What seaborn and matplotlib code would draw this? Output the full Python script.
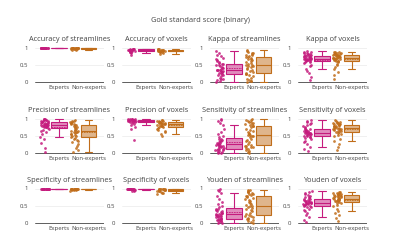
import numpy as np
import pandas as pd
import matplotlib
matplotlib.use("Agg")
import matplotlib.pyplot as plt
from matplotlib.colors import to_rgba
import seaborn as sns

# Values (approximate samples per group)
groups = ["Experts", "Non-experts"]
panel_titles = [
    "Accuracy of streamlines", "Accuracy of voxels", "Kappa of streamlines", "Kappa of voxels",
    "Precision of streamlines", "Precision of voxels", "Sensitivity of streamlines", "Sensitivity of voxels",
    "Specificity of streamlines", "Specificity of voxels", "Youden of streamlines", "Youden of voxels",
]

acc_str_exp = [0.975, 0.98, 0.982, 0.985, 0.986, 0.987, 0.988, 0.989, 0.99, 0.99,
               0.991, 0.992, 0.993, 0.993, 0.994, 0.995, 0.996, 0.997, 0.998, 0.999]
acc_str_non = [0.92, 0.94, 0.95, 0.96, 0.965, 0.97, 0.975, 0.978, 0.98, 0.982,
               0.984, 0.985, 0.987, 0.988, 0.99, 0.991, 0.993, 0.995, 0.997, 0.999]
acc_vox_exp = [0.78, 0.84, 0.86, 0.87, 0.88, 0.89, 0.9, 0.91, 0.91, 0.92,
               0.92, 0.93, 0.93, 0.94, 0.94, 0.95, 0.95, 0.96, 0.96, 0.97]
acc_vox_non = [0.82, 0.84, 0.86, 0.87, 0.88, 0.89, 0.89, 0.9, 0.9, 0.91,
               0.91, 0.92, 0.92, 0.93, 0.93, 0.94, 0.94, 0.95, 0.96, 0.97]

kap_str_exp = [0.0, 0.02, 0.05, 0.08, 0.1, 0.13, 0.16, 0.19, 0.21, 0.23,
               0.25, 0.27, 0.28, 0.3, 0.31, 0.32, 0.33, 0.34, 0.34, 0.35,
               0.36, 0.38, 0.4, 0.42, 0.44, 0.46, 0.48, 0.5, 0.51, 0.52,
               0.54, 0.57, 0.6, 0.63, 0.67, 0.7, 0.74, 0.78, 0.84, 0.9]
kap_str_non = [0.0, 0.02, 0.04, 0.07, 0.1, 0.13, 0.16, 0.19, 0.22, 0.24,
               0.26, 0.29, 0.32, 0.35, 0.38, 0.41, 0.43, 0.45, 0.47, 0.48,
               0.49, 0.51, 0.54, 0.57, 0.6, 0.63, 0.66, 0.68, 0.7, 0.72,
               0.73, 0.75, 0.77, 0.79, 0.81, 0.83, 0.85, 0.87, 0.89, 0.92]
kap_vox_exp = [0.05, 0.15, 0.25, 0.33, 0.38, 0.45, 0.5, 0.54, 0.57, 0.59,
               0.6, 0.62, 0.63, 0.64, 0.65, 0.66, 0.66, 0.67, 0.67, 0.68,
               0.68, 0.69, 0.7, 0.71, 0.72, 0.72, 0.73, 0.74, 0.75, 0.76,
               0.77, 0.78, 0.79, 0.8, 0.82, 0.83, 0.84, 0.86, 0.87, 0.89]
kap_vox_non = [0.1, 0.2, 0.3, 0.38, 0.43, 0.48, 0.53, 0.57, 0.6, 0.61,
               0.62, 0.64, 0.65, 0.66, 0.67, 0.68, 0.68, 0.69, 0.69, 0.7,
               0.7, 0.71, 0.72, 0.73, 0.74, 0.75, 0.76, 0.77, 0.77, 0.78,
               0.79, 0.8, 0.81, 0.82, 0.83, 0.84, 0.85, 0.86, 0.87, 0.88]

pre_str_exp = [0.02, 0.15, 0.28, 0.4, 0.47, 0.55, 0.6, 0.64, 0.68, 0.7,
               0.72, 0.74, 0.75, 0.76, 0.77, 0.78, 0.79, 0.79, 0.8, 0.8,
               0.81, 0.82, 0.83, 0.84, 0.85, 0.86, 0.87, 0.88, 0.89, 0.9,
               0.91, 0.92, 0.93, 0.94, 0.95, 0.96, 0.97, 0.98, 0.99, 1.0]
pre_str_non = [0.02, 0.08, 0.14, 0.2, 0.26, 0.31, 0.35, 0.39, 0.42, 0.44,
               0.46, 0.48, 0.5, 0.52, 0.54, 0.56, 0.58, 0.6, 0.61, 0.62,
               0.63, 0.64, 0.66, 0.68, 0.7, 0.72, 0.74, 0.76, 0.78, 0.8,
               0.81, 0.83, 0.85, 0.87, 0.88, 0.9, 0.91, 0.93, 0.94, 0.96]
pre_vox_exp = [0.37, 0.7, 0.76, 0.8, 0.84, 0.87, 0.89, 0.9, 0.91, 0.92, 0.93, 0.93, 0.94,
               0.94, 0.95, 0.95, 0.96, 0.96, 0.97, 0.97, 0.98, 0.98, 0.99, 0.99, 1.0]
pre_vox_non = [0.5, 0.55, 0.6, 0.64, 0.68, 0.71, 0.73, 0.75, 0.76, 0.77,
               0.78, 0.79, 0.8, 0.82, 0.83, 0.84, 0.85, 0.86, 0.87, 0.87,
               0.88, 0.89, 0.89, 0.9, 0.91, 0.92, 0.93, 0.94, 0.95, 0.97]

sen_str_exp = [0.0, 0.01, 0.02, 0.04, 0.06, 0.08, 0.09, 0.1, 0.11, 0.12,
               0.13, 0.14, 0.16, 0.17, 0.19, 0.2, 0.21, 0.22, 0.23, 0.25,
               0.26, 0.27, 0.28, 0.3, 0.32, 0.34, 0.36, 0.38, 0.4, 0.42,
               0.45, 0.5, 0.56, 0.62, 0.7, 0.8, 0.88, 0.93, 0.97, 1.0]
sen_str_non = [0.0, 0.03, 0.06, 0.09, 0.12, 0.14, 0.16, 0.18, 0.2, 0.21,
               0.23, 0.27, 0.31, 0.35, 0.39, 0.42, 0.45, 0.48, 0.5, 0.52,
               0.53, 0.56, 0.59, 0.62, 0.65, 0.68, 0.71, 0.74, 0.77, 0.79,
               0.81, 0.83, 0.85, 0.87, 0.89, 0.91, 0.93, 0.95, 0.97, 0.98]
sen_vox_exp = [0.05, 0.12, 0.18, 0.25, 0.31, 0.36, 0.4, 0.43, 0.46, 0.47,
               0.49, 0.5, 0.52, 0.53, 0.54, 0.55, 0.56, 0.57, 0.57, 0.58,
               0.59, 0.6, 0.61, 0.62, 0.63, 0.64, 0.65, 0.67, 0.68, 0.7,
               0.71, 0.73, 0.75, 0.78, 0.81, 0.84, 0.87, 0.9, 0.93, 0.96]
sen_vox_non = [0.1, 0.18, 0.26, 0.34, 0.42, 0.48, 0.53, 0.56, 0.58, 0.6,
               0.62, 0.64, 0.65, 0.67, 0.68, 0.69, 0.7, 0.71, 0.71, 0.72,
               0.73, 0.74, 0.75, 0.76, 0.77, 0.78, 0.79, 0.8, 0.81, 0.82,
               0.83, 0.84, 0.85, 0.86, 0.87, 0.88, 0.9, 0.91, 0.93, 0.95]

spe_str_exp = [0.985, 0.99, 0.992, 0.994, 0.995, 0.996, 0.996, 0.997, 0.997, 0.998,
               0.998, 0.998, 0.999, 0.999, 0.999, 0.999, 1.0, 1.0, 1.0, 1.0]
spe_str_non = [0.93, 0.95, 0.96, 0.97, 0.975, 0.98, 0.985, 0.988, 0.99, 0.992,
               0.994, 0.995, 0.996, 0.997, 0.998, 0.998, 0.999, 0.999, 1.0, 1.0]
spe_vox_exp = [0.92, 0.94, 0.96, 0.97, 0.975, 0.98, 0.983, 0.985, 0.987, 0.989,
               0.99, 0.991, 0.992, 0.993, 0.994, 0.995, 0.996, 0.997, 0.998, 0.999]
spe_vox_non = [0.84, 0.86, 0.88, 0.9, 0.92, 0.93, 0.94, 0.95, 0.955, 0.96,
               0.965, 0.97, 0.975, 0.98, 0.983, 0.986, 0.989, 0.992, 0.995, 0.998]

you_str_exp = [0.0, 0.01, 0.03, 0.05, 0.07, 0.08, 0.09, 0.1, 0.11, 0.12,
               0.13, 0.15, 0.16, 0.18, 0.19, 0.2, 0.21, 0.22, 0.24, 0.25,
               0.26, 0.27, 0.29, 0.3, 0.32, 0.34, 0.36, 0.38, 0.4, 0.42,
               0.46, 0.5, 0.55, 0.61, 0.69, 0.79, 0.86, 0.92, 0.96, 0.99]
you_str_non = [0.0, 0.02, 0.05, 0.08, 0.11, 0.13, 0.15, 0.17, 0.19, 0.21,
               0.23, 0.26, 0.3, 0.34, 0.37, 0.4, 0.43, 0.46, 0.48, 0.5,
               0.51, 0.54, 0.57, 0.6, 0.63, 0.66, 0.69, 0.72, 0.75, 0.77,
               0.79, 0.81, 0.83, 0.85, 0.87, 0.89, 0.91, 0.93, 0.95, 0.96]
you_vox_exp = [0.04, 0.1, 0.17, 0.24, 0.3, 0.35, 0.39, 0.42, 0.45, 0.47,
               0.49, 0.5, 0.52, 0.53, 0.54, 0.55, 0.56, 0.57, 0.57, 0.58,
               0.59, 0.6, 0.61, 0.62, 0.63, 0.64, 0.65, 0.66, 0.68, 0.7,
               0.71, 0.72, 0.74, 0.76, 0.78, 0.81, 0.84, 0.87, 0.9, 0.93]
you_vox_non = [0.05, 0.14, 0.22, 0.3, 0.36, 0.42, 0.48, 0.53, 0.57, 0.59,
               0.61, 0.63, 0.64, 0.65, 0.66, 0.67, 0.68, 0.69, 0.7, 0.7,
               0.71, 0.72, 0.73, 0.74, 0.75, 0.76, 0.77, 0.78, 0.79, 0.8,
               0.81, 0.82, 0.83, 0.84, 0.85, 0.86, 0.87, 0.88, 0.89, 0.91]

panel_data = [
    (acc_str_exp, acc_str_non), (acc_vox_exp, acc_vox_non),
    (kap_str_exp, kap_str_non), (kap_vox_exp, kap_vox_non),
    (pre_str_exp, pre_str_non), (pre_vox_exp, pre_vox_non),
    (sen_str_exp, sen_str_non), (sen_vox_exp, sen_vox_non),
    (spe_str_exp, spe_str_non), (spe_vox_exp, spe_vox_non),
    (you_str_exp, you_str_non), (you_vox_exp, you_vox_non),
]

colors = ["#c51b7d", "#c06d1a"]
text_color = "#444444"

sns.set_style("white")
plt.rcParams["font.family"] = ["Open Sans", "DejaVu Sans"]
np.random.seed(3)

fig = plt.figure(figsize=(4, 2.4), dpi=100)
fig.text(0.5, 1 - 20 / 240, "Gold standard score (binary)", ha="center", va="center",
         fontsize=5.4, color=text_color)

col_left = [35, 122, 210, 298]
row_zero = [82, 153, 223]
unit = 34.5
y_lo, y_hi = -0.02, 1.06

for i, title in enumerate(panel_titles):
    r, c = divmod(i, 4)
    bottom_px = row_zero[r] - y_lo * unit
    height_px = (y_hi - y_lo) * unit
    ax = fig.add_axes([col_left[c] / 400, 1 - bottom_px / 240, 69 / 400, height_px / 240])

    for k, vals in enumerate(panel_data[i]):
        df = pd.DataFrame({"value": vals})
        df["box_pos"] = float(k)
        df["strip_pos"] = k - 0.48
        col = colors[k]
        sns.stripplot(data=df, x="strip_pos", y="value", native_scale=True, jitter=0.14,
                      color=col, size=2.0, linewidth=0, alpha=0.85, ax=ax, zorder=3)
        n_before = len(ax.patches)
        sns.boxplot(data=df, x="box_pos", y="value", native_scale=True, width=0.52,
                    color=col, linecolor=col, linewidth=0.8,
                    showfliers=False, showmeans=True, meanline=True,
                    meanprops=dict(color=col, linestyle=(0, (2, 1)), linewidth=0.6),
                    medianprops=dict(color=col, linewidth=0.8), ax=ax, zorder=3)
        # translucent box fill, solid outline
        for p in ax.patches[n_before:]:
            p.set_facecolor(to_rgba(col, 0.5))
            p.set_edgecolor(col)

    ax.set_xlim(-0.8, 1.52)
    ax.set_ylim(y_lo, y_hi)
    ax.set_xticks([0, 1])
    ax.set_xticklabels(groups)
    ax.set_yticks([0, 0.5, 1])
    ax.set_yticklabels(["0", "0.5", "1"])
    ax.set_xlabel("")
    ax.set_ylabel("")
    ax.tick_params(axis="both", length=0, labelsize=4.3, labelcolor=text_color, pad=1.5)
    ax.tick_params(axis="y", pad=5)
    for s in ax.spines.values():
        s.set_visible(False)
    ax.axhline(0.5, color="#eeeeee", lw=0.6, zorder=0)
    ax.axhline(1.0, color="#eeeeee", lw=0.6, zorder=0)
    ax.axhline(0.0, color="#444444", lw=0.6, zorder=1)
    ax.set_title(title, fontsize=5.3, color=text_color, pad=3)

plt.savefig("out.png", dpi=100)
